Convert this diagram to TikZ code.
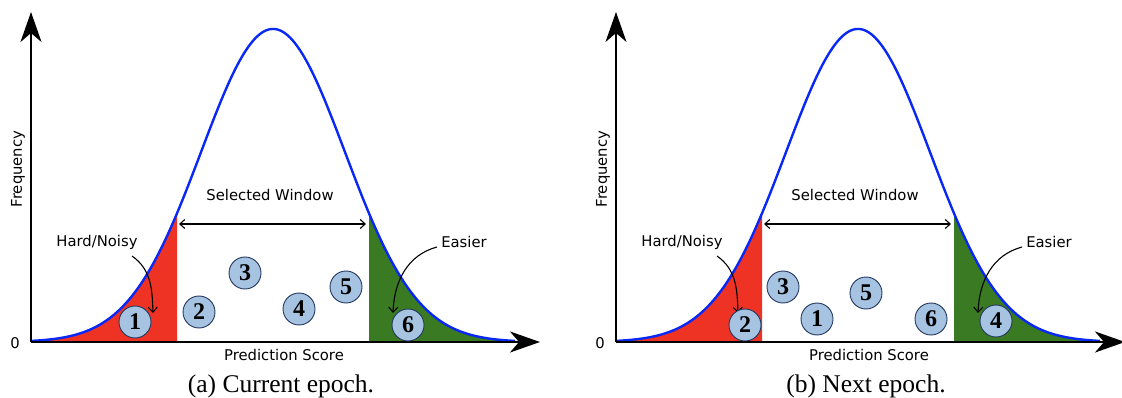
\documentclass[tikz,border=0pt]{standalone}
\usepackage{fontspec}
\setmainfont{Liberation Serif}
\newfontfamily\lblfont{DejaVu Sans}
\usetikzlibrary{arrows.meta}
\definecolor{curveblue}{RGB}{10,40,245}
\definecolor{hardred}{RGB}{238,51,36}
\definecolor{easygreen}{RGB}{58,122,34}
\definecolor{ballfill}{RGB}{166,196,226}
\definecolor{ballline}{RGB}{35,55,95}
\newcommand{\basepanel}[2]{%
  \fill[hardred] plot[domain=31:177, samples=80] (\x, {342-313*exp(-0.5*((\x-273)/72)^2)}) -- (177,342) -- (31,342) -- cycle;
  \fill[easygreen] plot[domain=369:515, samples=80] (\x, {342-313*exp(-0.5*((\x-273)/72)^2)}) -- (515,342) -- (369,342) -- cycle;
  \draw[gausscurve] plot[domain=31:515, samples=240] (\x, {342-313*exp(-0.5*((\x-273)/72)^2)});
  \coordinate (#1o) at (31,342);
  \coordinate (#1xend) at (540,342);
  \coordinate (#1yend) at (31,12);
  \draw[axisline] (#1o) -- (#1xend);
  \draw[axisline] (#1o) -- (#1yend);
  \node[lbl] (#1zero) at (15,343) {0};
  \node[lbl, rotate=90] (#1freq) at (18,169) {Frequency};
  \node[lbl] (#1score) at (284,355) {Prediction Score};
  \node[lbl] (#1sel) at (270,195) {Selected Window};
  \node[lbl] (#1hard) at (97,242) {Hard/Noisy};
  \node[lbl] (#1easy) at (464,242) {Easier};
  \coordinate (#1wl) at (179,224);
  \coordinate (#1wr) at (366,224);
  \draw[windowarrow] (#1wl) -- (#1wr);
  \coordinate (#1hs) at (132,256);
  \coordinate (#1he) at (153,313);
  \coordinate (#1es) at (437,247);
  \coordinate (#1ee) at (393,313);
  \draw[thinarrow] (#1hs) to[out=-35,in=92] (#1he);
  \draw[thinarrow] (#1es) to[out=195,in=88] (#1ee);
  \node[captext] (#1cap) at (281,386) {#2};
}
\begin{document}
\begin{tikzpicture}[x=1pt,y=-1pt,
  axisline/.style={line width=2pt, -{Stealth[length=30pt,width=21pt,inset=9pt]}},
  ball/.style={circle, draw=ballline, line width=0.9pt, fill=ballfill, minimum size=32pt, inner sep=0pt, font=\fontsize{24}{24}\selectfont\bfseries},
  lbl/.style={font=\lblfont\fontsize{14.8}{16}\selectfont, inner sep=0pt},
  captext/.style={font=\fontsize{25.5}{27}\selectfont, inner sep=0pt},
  thinarrow/.style={line width=1.1pt, -{Straight Barb[length=5pt,width=9pt]}},
  windowarrow/.style={line width=1.1pt, {Straight Barb[length=5pt,width=9pt]}-{Straight Barb[length=5pt,width=9pt]}},
  gausscurve/.style={curveblue, line width=2.4pt}
]
\useasboundingbox (0,0) rectangle (1122,398);
\begin{scope}
  \basepanel{a}{(a) Current epoch.}
  \node[ball] (a1) at (135,322) {1};
  \node[ball] (a2) at (199,312) {2};
  \node[ball] (a3) at (245,273) {3};
  \node[ball] (a4) at (299,309) {4};
  \node[ball] (a5) at (346,287) {5};
  \node[ball] (a6) at (408,325) {6};
\end{scope}
\begin{scope}[xshift=585pt]
  \basepanel{b}{(b) Next epoch.}
  \node[ball] (b2) at (160,325) {2};
  \node[ball] (b3) at (198,287) {3};
  \node[ball] (b1) at (232,319) {1};
  \node[ball] (b5) at (281,293) {5};
  \node[ball] (b6) at (346,319) {6};
  \node[ball] (b4) at (411,321) {4};
\end{scope}
\end{tikzpicture}
\end{document}
